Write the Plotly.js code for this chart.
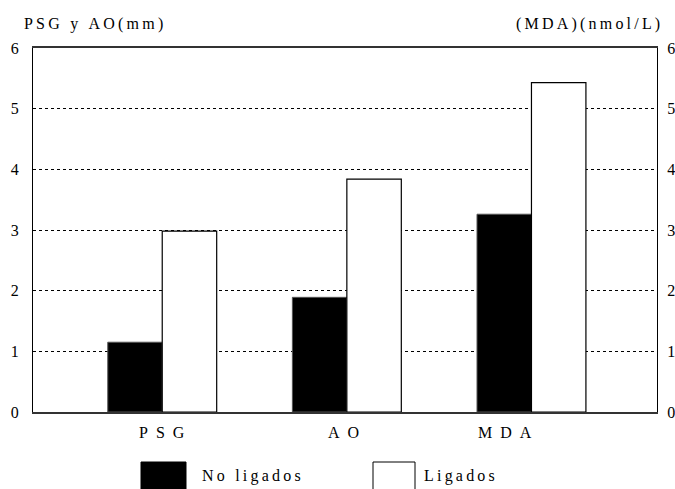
<!DOCTYPE html>
<html>
<head>
<meta charset="utf-8">
<script src="https://cdn.plot.ly/plotly-3.0.1.min.js"></script>
<style>html,body{margin:0;padding:0;background:#fff;}#chart{width:675px;height:489px;}</style>
</head>
<body>
<div id="chart"></div>
<script>
const categories = ['PSG', 'AO', 'MDA'];
const noLigados = [1.15, 1.89, 3.26];
const ligados = [2.98, 3.84, 5.43];
const yTicks = [0, 1, 2, 3, 4, 5, 6];
const seriesNames = ['No ligados', 'Ligados'];
const leftTitle = 'PSG y AO(mm)';
const rightTitle = '(MDA)(nmol/L)';

const FONT = 'Liberation Serif, Times New Roman, serif';
const spaced = s => s.split('').join('\u2009');

// plot area in pixels
const L = 33, R = 657, T = 48, B = 412;
const px = x => (x - L) / (R - L);
const py = y => (B - y) / (B - T);

const traces = [
  {type: 'bar', name: seriesNames[0], x: categories, y: noLigados,
   marker: {color: '#000', line: {color: '#555', width: 1}}, showlegend: false},
  {type: 'bar', name: seriesNames[1], x: categories, y: ligados,
   marker: {color: '#fff', line: {color: '#000', width: 1.2}}, showlegend: false},
  {type: 'scatter', mode: 'lines', x: categories, y: noLigados, yaxis: 'y2',
   line: {width: 0}, opacity: 0, hoverinfo: 'skip', showlegend: false}
];

const labelShift = [0, -3, -26];
const annotations = categories.map((c, i) => ({
  x: c, y: 0, xref: 'x', yref: 'y', yanchor: 'top', yshift: -10, xshift: labelShift[i],
  text: spaced(c).replace(/\u2009/g, '\u2002'), showarrow: false,
  font: {family: FONT, size: 16, color: '#000'}
}));
annotations.push(
  {xref: 'paper', yref: 'paper', x: px(22), y: py(24), xanchor: 'left', yanchor: 'middle',
   text: spaced(leftTitle), showarrow: false, font: {family: FONT, size: 16, color: '#000'}},
  {xref: 'paper', yref: 'paper', x: px(662), y: py(24), xanchor: 'right', yanchor: 'middle',
   text: spaced(rightTitle), showarrow: false, font: {family: FONT, size: 16, color: '#000'}},
  {xref: 'paper', yref: 'paper', x: px(200), y: py(476), xanchor: 'left', yanchor: 'middle',
   text: spaced('No ligados'), showarrow: false, font: {family: FONT, size: 16, color: '#000'}},
  {xref: 'paper', yref: 'paper', x: px(422), y: py(476), xanchor: 'left', yanchor: 'middle',
   text: spaced('Ligados'), showarrow: false, font: {family: FONT, size: 16, color: '#000'}}
);

const shapes = [
  {type: 'rect', xref: 'paper', yref: 'paper', x0: px(141), x1: px(186), y0: py(462), y1: py(495),
   fillcolor: '#000', line: {color: '#000', width: 1}},
  {type: 'rect', xref: 'paper', yref: 'paper', x0: px(373), x1: px(415), y0: py(462), y1: py(495),
   fillcolor: '#fff', line: {color: '#000', width: 1}}
];

const yAxisCommon = {
  range: [0, 6], tickvals: yTicks, ticks: '', showline: true, linecolor: '#000', linewidth: 1,
  tickfont: {family: FONT, size: 16, color: '#000'}, zeroline: false, fixedrange: true
};

const layout = {
  width: 675, height: 489,
  margin: {l: L, r: 675 - R, t: T, b: 489 - B, pad: 0},
  paper_bgcolor: '#fff', plot_bgcolor: '#fff',
  barmode: 'group', bargap: 0.41, bargroupgap: 0,
  font: {family: FONT, size: 16, color: '#000'},
  xaxis: {type: 'category', range: [-0.70, 2.68], showticklabels: false, ticks: '',
          showline: true, linecolor: '#333', linewidth: 2, mirror: true, showgrid: false,
          zeroline: false, fixedrange: true},
  yaxis: Object.assign({}, yAxisCommon, {side: 'left', showgrid: true, gridcolor: '#000',
          gridwidth: 1, griddash: 'dot', ticklabelstandoff: 10}),
  yaxis2: Object.assign({}, yAxisCommon, {side: 'right', overlaying: 'y', anchor: 'x',
          showgrid: false, ticklabelstandoff: 6}),
  annotations: annotations,
  shapes: shapes,
  showlegend: false
};

Plotly.newPlot('chart', traces, layout, {displayModeBar: false, staticPlot: true});
</script>
</body>
</html>
